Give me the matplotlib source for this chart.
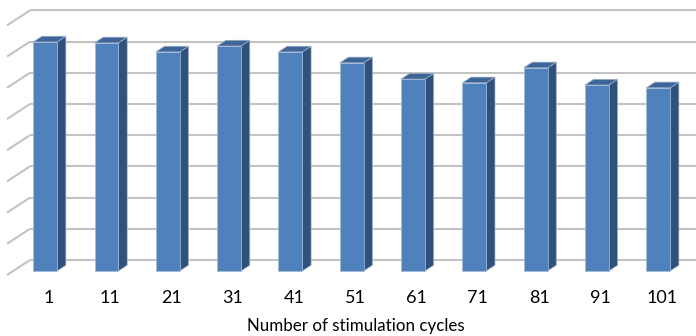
import matplotlib.pyplot as plt
import numpy as np

cycles = ["1", "11", "21", "31", "41", "51", "61", "71", "81", "91", "101"]
values = [7.34, 7.31, 7.02, 7.21, 7.02, 6.67, 6.15, 6.03, 6.51, 5.96, 5.87]
grid_values = np.arange(0, 9)

FRONT = "#4F81BD"
SIDE = "#30517C"
TOP = "#3D6598"
GRID = "#C3C3C3"

# depth direction of the fake 3-D box, in data units (full floor depth)
DEPTH_X, DEPTH_Y = 0.375, 0.481
BAR_D0, BAR_D1 = 0.27, 0.65  # bar front/back as fraction of depth
BAR_W = 0.39
WALL_LEFT = -0.522

fig = plt.figure(figsize=(6.96, 3.36), dpi=100)
ax = fig.add_axes([0, 0, 1, 1])
ax.set_xlim(-0.636, 10.718)
ax.set_ylim(-1.955, 8.814)
ax.axis("off")

# side wall diagonals and back wall gridlines
for g in grid_values:
    ax.plot([WALL_LEFT, WALL_LEFT + DEPTH_X], [g, g + DEPTH_Y],
            color=GRID, lw=1.5, solid_capstyle="butt", zorder=1)
    ax.plot([WALL_LEFT + DEPTH_X, 12], [g + DEPTH_Y, g + DEPTH_Y],
            color=GRID, lw=1.5, solid_capstyle="butt", zorder=1)

x = np.arange(len(cycles))
fx = x + BAR_D0 * DEPTH_X
fy = BAR_D0 * DEPTH_Y
ddx = (BAR_D1 - BAR_D0) * DEPTH_X
ddy = (BAR_D1 - BAR_D0) * DEPTH_Y

for xi, v in zip(fx, values):
    left, right = xi - BAR_W / 2, xi + BAR_W / 2
    # right side face
    ax.fill([right, right + ddx, right + ddx, right],
            [fy, fy + ddy, v + fy + ddy, v + fy],
            color=SIDE, lw=0.5, ec="#A0B2C8", zorder=2)
    # top face
    ax.fill([left, right, right + ddx, left + ddx],
            [v + fy, v + fy, v + fy + ddy, v + fy + ddy],
            color=TOP, lw=0.5, ec="#A0B2C8", zorder=2)

ax.bar(fx, values, width=BAR_W, bottom=fy, color=FRONT,
       edgecolor="#A6BAD3", linewidth=0.5, zorder=3)

for xi, lab in zip(x, cycles):
    ax.text(xi + 0.16, -0.74, lab, ha="center", va="center",
            fontsize=13, family="Lato", color="black")

ax.text(5.17, -1.62, "Number of stimulation cycles", ha="center",
        va="center", fontsize=12.2, family="Lato", color="black")

fig.savefig("out.png", dpi=100)
